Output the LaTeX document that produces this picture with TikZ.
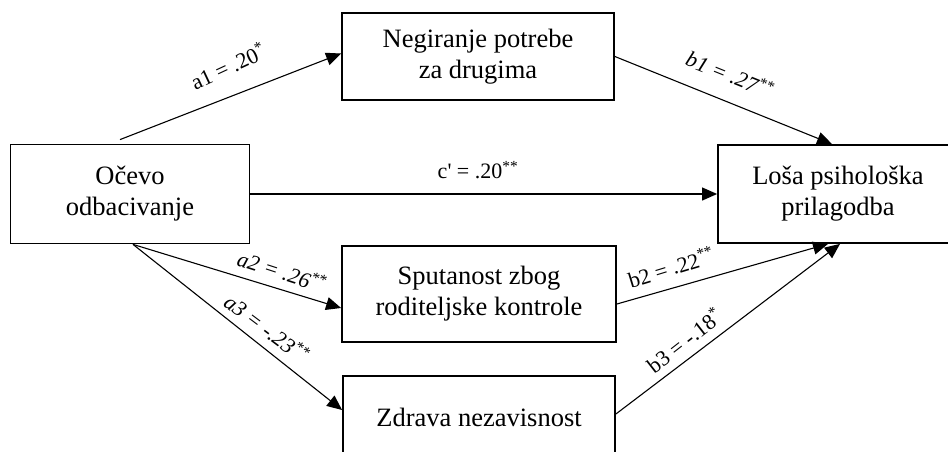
\documentclass[tikz,border=0pt]{standalone}
\usepackage{fontspec}
\setmainfont{Liberation Serif}
\usetikzlibrary{arrows.meta}
\begin{document}
\begin{tikzpicture}[x=1pt,y=-1pt,
  box/.style={draw, line width=1.8pt, align=center, inner sep=0pt, fill=white,
    font=\fontsize{26.5}{31}\selectfont},
  arr/.style={line width=1.1pt, -{Triangle[length=15pt,width=13pt]}},
  lab/.style={font=\fontsize{22}{26}\selectfont, inner sep=0pt}]
\useasboundingbox (0,0) rectangle (948,452);
\node[box, minimum width=239pt, minimum height=99pt] (L) at (130,194) {Očevo\\odbacivanje};
\node[box, minimum width=272pt, minimum height=87pt] (T) at (478,56.5) {Negiranje potrebe\\za drugima};
\node[box, minimum width=240pt, minimum height=98pt] (R) at (838,194) {Loša psihološka\\prilagodba};
\node[box, minimum width=274pt, minimum height=96pt] (M) at (479,294) {Sputanost zbog\\roditeljske kontrole};
\node[box, minimum width=272pt, minimum height=82pt] (B) at (479,417) {Zdrava nezavisnost};

\draw[arr] ([xshift=-10pt,yshift=4pt]L.north) -- ([yshift=3pt]T.west);
\draw[arr] (T.east) -- ([xshift=-6pt]R.north);
\draw[arr] (L.east) -- (R.west);
\draw[arr] ([xshift=3pt]L.south) -- ([yshift=-14pt]M.west);
\draw[arr] ([xshift=3pt]L.south) -- ([yshift=7pt]B.west);
\draw[arr] ([yshift=-10pt]M.east) -- ([xshift=-10pt]R.south);
\draw[arr] ([yshift=3pt]B.east) -- ([xshift=2pt]R.south);

\node[lab, rotate=25] (la1) at (228,66) {a1 = .20\textsuperscript{*}};
\node[lab, rotate=-22] (lb1) at (730,74) {\itshape b1 = .27\textsuperscript{**}};
\node[lab] (lc) at (478,170) {c\textquotesingle{} = .20\textsuperscript{**}};
\node[lab, rotate=-18] (la2) at (282,271) {\itshape a2 = .26\textsuperscript{**}};
\node[lab, rotate=-37] (la3) at (267,328) {\itshape a3 = -.23\textsuperscript{**}};
\node[lab, rotate=17] (lb2) at (671,267) {b2 = .22\textsuperscript{**}};
\node[lab, rotate=38] (lb3) at (684,340) {b3 = -.18\textsuperscript{*}};
\end{tikzpicture}
\end{document}
